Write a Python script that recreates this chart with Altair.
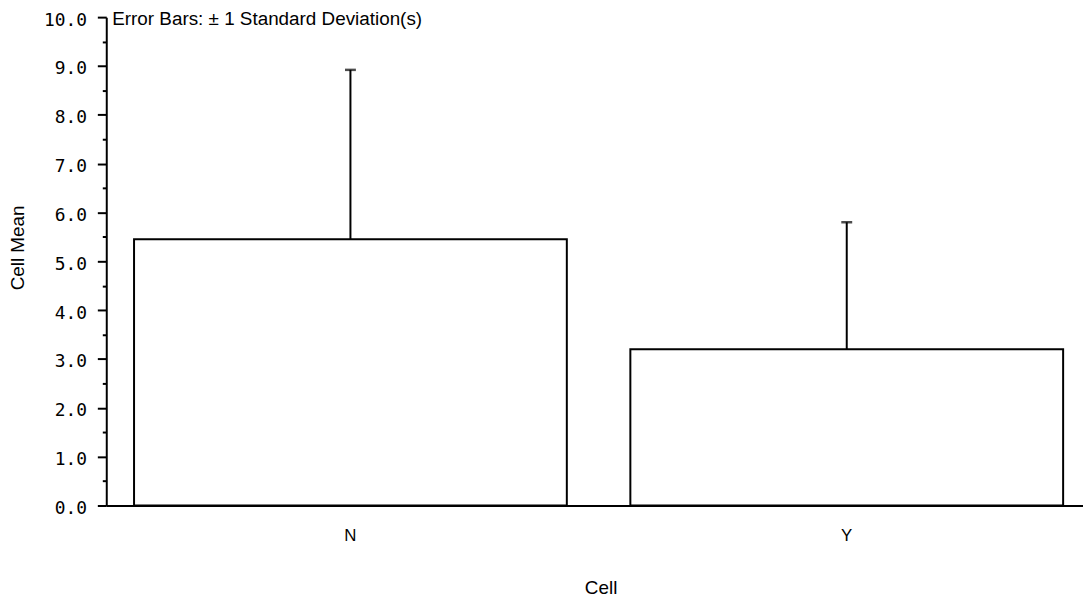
import altair as alt
import pandas as pd

# ---- data ----
cells = ["N", "Y"]
means = [5.45, 3.2]
sds = [3.47, 2.6]
major_ticks = [0, 1, 2, 3, 4, 5, 6, 7, 8, 9, 10]
minor_ticks = [0.5, 1.5, 2.5, 3.5, 4.5, 5.5, 6.5, 7.5, 8.5, 9.5]
title_text = ["Error Bars: \u00b1 1 Standard Deviation(s)"]

df = pd.DataFrame({"cell": cells, "mean": means, "sd": sds})
df["upper"] = df["mean"] + df["sd"]

xscale = alt.Scale(domain=cells, paddingInner=0.128, paddingOuter=0.048, align=0.583)
yscale = alt.Scale(domain=[0, 10], nice=False, zero=True)

x_axis = alt.Axis(
    title="Cell", labelAngle=0, ticks=False, grid=False,
    domainColor="black", domainWidth=2,
    labelFont="Liberation Sans", labelFontSize=17, labelColor="black", labelPadding=22,
    titleFont="Liberation Sans", titleFontSize=19, titleFontWeight="normal", titleColor="black",
    titleX=498, titleY=83, titleAlign="center", titleBaseline="middle",
)

y_axis = alt.Axis(
    title="Cell Mean", values=major_ticks, format=".1f", grid=False,
    tickSize=9, tickWidth=2, tickColor="black",
    domainColor="black", domainWidth=2,
    labelFont="DejaVu Sans Mono", labelFontSize=18, labelColor="black", labelPadding=11,
    labelOffset=3,
    titleFont="Liberation Sans", titleFontSize=19, titleFontWeight="normal", titleColor="black",
    titleX=-89, titleY=232, titleAngle=270, titleAlign="center", titleBaseline="middle",
)

minor_axis = alt.Axis(
    orient="left", title=None, values=minor_ticks, labels=False, domain=False, grid=False,
    tickSize=4, tickWidth=2, tickColor="black",
)

bars = alt.Chart(df).mark_bar(fill="white", stroke="black", strokeWidth=2).encode(
    x=alt.X("cell:N", scale=xscale, sort=None, axis=x_axis),
    y=alt.Y("mean:Q", scale=yscale, axis=y_axis),
)

rules = alt.Chart(df).mark_rule(color="black", strokeWidth=2).encode(
    x=alt.X("cell:N", scale=xscale, sort=None, axis=x_axis),
    y=alt.Y("mean:Q", scale=yscale, axis=minor_axis),
    y2="upper:Q",
)

caps = alt.Chart(df).mark_tick(color="black", size=11, thickness=2.5).encode(
    x=alt.X("cell:N", scale=xscale, sort=None, axis=x_axis),
    y=alt.Y("upper:Q", scale=yscale, axis=None),
)

title = alt.Chart(pd.DataFrame({"t": title_text})).mark_text(
    align="left", baseline="alphabetic", font="Liberation Sans", fontSize=19, color="black"
).encode(
    x=alt.value(6), y=alt.value(8), text="t:N"
)

chart = alt.layer(bars, rules, caps, title).resolve_axis(y="independent").properties(
    width=984, height=492,
    autosize=alt.AutoSizeParams(type="none"),
    padding={"left": 99, "top": 7, "right": 0, "bottom": 92},
).configure_view(stroke=None)

chart.save("out.html", embed_options={"renderer": "svg", "actions": False})
